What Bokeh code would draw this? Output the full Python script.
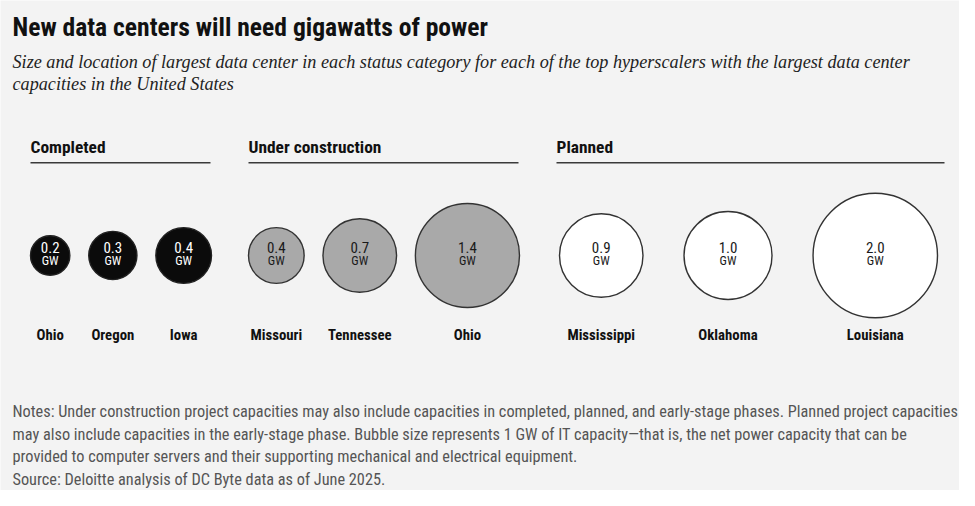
import math
from bokeh.plotting import figure
from bokeh.models import Range1d, Label, ColumnDataSource
from bokeh.core.properties import value
from bokeh.embed import file_html
from bokeh.resources import INLINE

# ---------------- data ----------------
groups = ["Completed", "Under construction", "Planned"]
completed_states = ["Ohio", "Oregon", "Iowa"]
completed_gw = [0.2, 0.3, 0.4]
construction_states = ["Missouri", "Tennessee", "Ohio"]
construction_gw = [0.4, 0.7, 1.4]
planned_states = ["Mississippi", "Oklahoma", "Louisiana"]
planned_gw = [0.9, 1.0, 2.0]

title = "New data centers will need gigawatts of power"
subtitle = ["Size and location of largest data center in each status category for each of the top hyperscalers with the largest data center",
            "capacities in the United States"]
notes = ["Notes: Under construction project capacities may also include capacities in completed, planned, and early-stage phases. Planned project capacities",
         "may also include capacities in the early-stage phase. Bubble size represents 1 GW of IT capacity\u2014that is, the net power capacity that can be",
         "provided to computer servers and their supporting mechanical and electrical equipment."]
source = "Source: Deloitte analysis of DC Byte data as of June 2025."

# ---------------- layout ----------------
W, H = 959, 490
BG = "#f3f3f3"
COND = "Roboto Condensed, Liberation Sans Narrow, DejaVu Sans Condensed, Roboto"
SERIF = "Liberation Serif"
TO = -7  # text baseline correction

p = figure(width=W, height=H, output_backend="svg", toolbar_location=None,
           x_range=Range1d(0, W), y_range=Range1d(H, 0),
           min_border=0, min_border_left=0, min_border_right=0,
           min_border_top=0, min_border_bottom=0)
p.axis.visible = False
p.grid.visible = False
p.outline_line_color = None
p.background_fill_color = BG
p.border_fill_color = BG

scale_k = 44.0  # radius px per sqrt(GW)
spans = [(30, 211, 210), (248, 519, 518), (556, 937, 944)]
starts = [30, 248, 559]
styles = [("#0b0b0b", "#222222", "#ffffff"),
          ("#a9a9a9", "#333333", "#1a1a1a"),
          ("#ffffff", "#333333", "#1a1a1a")]
cy = 255

series = [(completed_states, completed_gw), (construction_states, construction_gw),
          (planned_states, planned_gw)]

for gi, (g, (states, vals)) in enumerate(zip(groups, series)):
    hx0, ex1, ux1 = spans[gi]
    x0 = starts[gi]
    radii = [scale_k * math.sqrt(v) for v in vals]
    gap = (ex1 - x0 - 2 * sum(radii)) / (len(vals) - 1)
    xs = []
    cur = x0
    for r in radii:
        xs.append(cur + r)
        cur += 2 * r + gap
    fill, line, txt = styles[gi]
    src = ColumnDataSource(dict(x=xs, y=[cy] * len(xs), r=radii, v=[f"{v:.1f}" for v in vals],
                                gw=["GW"] * len(xs), s=states))
    p.circle(x="x", y="y", radius="r", source=src, fill_color=fill,
             line_color=line, line_width=1.4)
    p.text(x="x", y=253.5 + TO, text="v", source=src, text_align="center",
           text_baseline="alphabetic", text_font=value(COND), text_font_size="15px",
           text_color=txt)
    p.text(x="x", y=266.7 + TO, text="gw", source=src, text_align="center",
           text_baseline="alphabetic", text_font=value(COND), text_font_size="12.5px",
           text_color=txt)
    p.text(x="x", y=341.7 + TO, text="s", source=src, text_align="center",
           text_baseline="alphabetic", text_font=value(COND), text_font_size="14.8px",
           text_font_style="bold", text_color="#111111")
    # header + underline
    p.add_layout(Label(x=hx0, y=153.3 + TO, text=g, text_font=COND, text_font_size="17.4px",
                       text_font_style="bold", text_color="#111111",
                       text_baseline="alphabetic"))
    p.line(x=[hx0, ux1], y=[162.3, 162.3], line_color="#3a3a3a", line_width=1.4)

p.add_layout(Label(x=12, y=33 + TO, text=title, text_font=COND, text_font_size="25.6px",
                   text_font_style="bold", text_color="#111111", text_baseline="alphabetic"))
for i, s in enumerate(subtitle):
    p.add_layout(Label(x=12, y=68 + 22 * i + TO, text=s, text_font=SERIF, text_font_size="18.2px",
                       text_font_style="italic", text_color="#222222",
                       text_baseline="alphabetic"))
for i, s in enumerate(notes):
    p.add_layout(Label(x=12, y=418 + 22.5 * i + TO, text=s, text_font=COND, text_font_size="16.3px",
                       text_color="#555555", text_baseline="alphabetic"))
p.add_layout(Label(x=12, y=486 + TO, text=source, text_font=COND, text_font_size="16.3px",
                   text_color="#555555", text_baseline="alphabetic"))

open("out.html", "w").write(file_html(p, INLINE))
